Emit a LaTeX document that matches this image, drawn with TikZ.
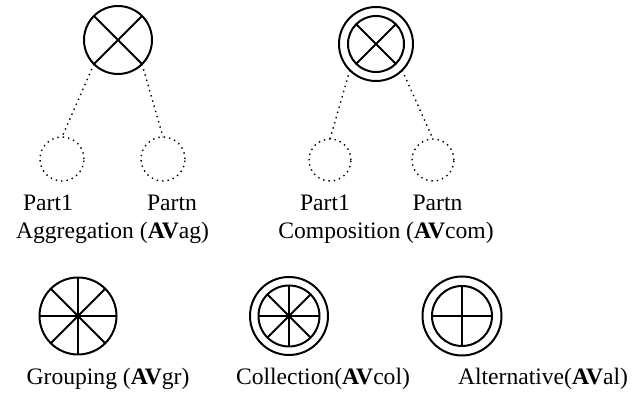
\documentclass[tikz,border=0pt]{standalone}
\usepackage{fontspec}
\setmainfont{Liberation Serif}
\newfontfamily\timesfont{Liberation Serif}
\begin{document}
\begin{tikzpicture}[x=0.5pt,y=-0.5pt,
  ring/.style={circle, draw, line width=1pt, inner sep=0pt, outer sep=0pt, minimum size=#1},
  part/.style={circle, draw, dotted, line width=0.7pt, inner sep=0pt, outer sep=0pt, minimum size=#1},
  spoke/.style={line width=0.9pt},
  conn/.style={dotted, line width=0.7pt},
  lbl/.style={anchor=base, inner sep=0pt, font=\timesfont\fontsize{11.8}{14}\selectfont}]
\useasboundingbox (0,0) rectangle (633,399);
% Aggregation
\node[ring=34pt] (agg) at (118,40) {};
\draw[spoke] (agg.45) -- (agg.225) (agg.135) -- (agg.315);
\node[part=22pt] (p1) at (62,159) {};
\node[part=22pt] (pn) at (163,159) {};
\draw[conn] (agg.225) -- (p1.north);
\draw[conn] (agg.315) -- (pn.north);
\node[lbl] (lp1) at (48,211) {Part1};
\node[lbl] (lpn) at (172,211) {Partn};
\node[lbl] (lagg) at (112.5,239) {Aggregation (\textbf{AV}ag)};
% Composition
\node[ring=37pt] (comp) at (376,44) {};
\node[ring=28pt] (compin) at (376,44) {};
\draw[spoke] (compin.45) -- (compin.225) (compin.135) -- (compin.315);
\node[part=21pt] (c1) at (330,160) {};
\node[part=21pt] (cn) at (433,160) {};
\draw[conn] (comp.225) -- (c1.north);
\draw[conn] (comp.315) -- (cn.north);
\node[lbl] (lc1) at (325,211) {Part1};
\node[lbl] (lcn) at (437.5,211) {Partn};
\node[lbl] (lcomp) at (386,239) {Composition (\textbf{AV}com)};
% Grouping
\node[ring=38.5pt] (gr) at (78,316) {};
\draw[spoke] (gr.0) -- (gr.180) (gr.90) -- (gr.270) (gr.45) -- (gr.225) (gr.135) -- (gr.315);
\node[lbl] (lgr) at (108,385) {Grouping (\textbf{AV}gr)};
% Collection
\node[ring=39pt] (col) at (289,316) {};
\node[ring=30.5pt] (colin) at (289,316) {};
\draw[spoke] (colin.0) -- (colin.180) (colin.90) -- (colin.270) (colin.45) -- (colin.225) (colin.135) -- (colin.315);
\node[lbl] (lcol) at (323,385) {Collection(\textbf{AV}col)};
% Alternative
\node[ring=39.5pt] (alt) at (462,316) {};
\node[ring=30pt] (altin) at (462,316) {};
\draw[spoke] (altin.0) -- (altin.180) (altin.90) -- (altin.270);
\node[lbl] (lalt) at (543,385) {Alternative(\textbf{AV}al)};
\end{tikzpicture}
\end{document}
